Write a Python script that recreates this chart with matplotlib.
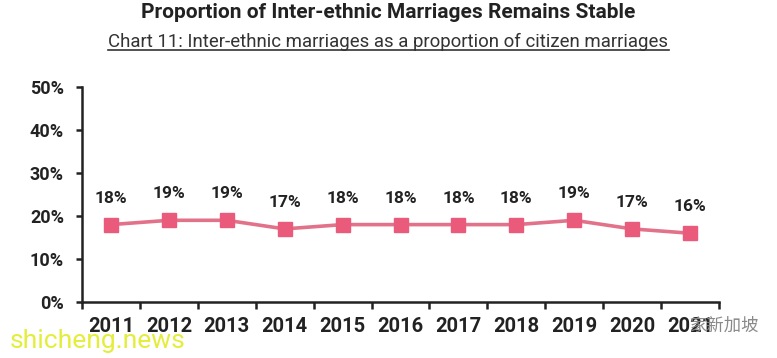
import matplotlib.pyplot as plt
from matplotlib.lines import Line2D
from matplotlib.ticker import FixedLocator

plt.rcParams['font.family'] = ['Roboto', 'DejaVu Sans']

years = ['2011', '2012', '2013', '2014', '2015', '2016', '2017', '2018', '2019', '2020', '2021']
share = [18, 19, 19, 17, 18, 18, 18, 18, 19, 17, 16]
yticks = [0, 10, 20, 30, 40, 50]

fig = plt.figure(figsize=(7.77, 3.58), dpi=100)
ax = fig.add_axes([0.1055, 0.1564, 0.8199, 0.6006])

x = list(range(len(years)))
ax.plot(x, share, color='#E2728A', lw=2.6, marker='s', ms=10,
        mfc='#EA5B7B', mec='#EA5B7B', zorder=3)
for xi, v in zip(x, share):
    ax.annotate(f'{v}%', (xi, v), xytext=(0, 19), textcoords='offset points',
                ha='center', va='center', fontsize=12.5, fontweight='bold', color='#222222')

ax.set_xlim(-0.5, len(years) - 0.5)
ax.set_ylim(0, 50)
ax.set_xticks(x)
ax.set_xticklabels(years, fontsize=14.5, fontweight='bold', color='#222222')
ax.xaxis.set_minor_locator(FixedLocator([i - 0.5 for i in range(len(years) + 1)]))
ax.tick_params(axis='x', which='major', length=0, pad=11)
ax.tick_params(axis='x', which='minor', length=5, width=1.8, color='#222222')
ax.set_yticks(yticks)
ax.set_yticklabels([f'{t}%' for t in yticks], fontsize=13, fontweight='bold', color='#222222')
ax.tick_params(axis='y', length=4, width=1.8, color='#222222', pad=9)

for s in ['top', 'right']:
    ax.spines[s].set_visible(False)
for s in ['left', 'bottom']:
    ax.spines[s].set_linewidth(1.8)
    ax.spines[s].set_color('#222222')

fig.text(0.5, 0.966, 'Proportion of Inter-ethnic Marriages Remains Stable',
         ha='center', va='center', fontsize=15, fontweight='bold', color='#222222')
sub = fig.text(0.5, 0.883, 'Chart 11: Inter-ethnic marriages as a proportion of citizen marriages',
               ha='center', va='center', fontsize=13.4, color='#333333')

fig.canvas.draw()
bb = sub.get_window_extent().transformed(fig.transFigure.inverted())
fig.add_artist(Line2D([bb.x0, bb.x1], [bb.y0 + 0.004, bb.y0 + 0.004],
                      transform=fig.transFigure, color='#333333', lw=1.2))

# watermarks
fig.text(0.012, 0.015, 'shicheng.news', fontsize=19, color='#E4EE3A', ha='left', va='bottom', zorder=5)
fig.text(0.888, 0.09, '家新加坡', fontsize=12.5, color='#8A8A8A',
         family=['Noto Sans CJK SC', 'DejaVu Sans'], ha='left', va='center', zorder=5)

fig.savefig('out.png', dpi=100)
